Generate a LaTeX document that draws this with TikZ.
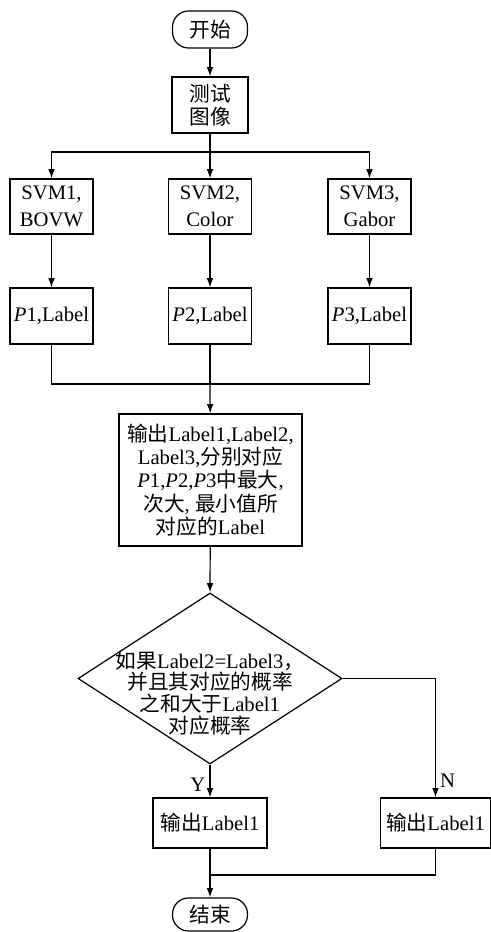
\documentclass[tikz,border=0pt]{standalone}
\usepackage{fontspec}
\setmainfont{Liberation Serif}
\newfontfamily\cjk{Noto Sans CJK SC}
\newcommand\zh[1]{{\cjk #1}}
\usetikzlibrary{shapes.geometric,arrows.meta}
\begin{document}
\begin{tikzpicture}[x=0.75pt,y=-0.75pt,
  line width=0.9pt,
  every node/.style={font=\fontsize{15.5}{17.5}\selectfont},
  box/.style={draw,rectangle,inner sep=0pt,align=center},
  term/.style={draw,rectangle,rounded corners=12pt,inner sep=0pt,minimum width=56.25pt},
  arr/.style={-{Latex[length=7pt,width=5pt]}}
]
\useasboundingbox (0,0) rectangle (491,932);

\node[term,minimum height=27.75pt] (start) at (210,29.5) {\zh{开始}};
\node[box,minimum width=57pt,minimum height=42pt] (test) at (210,105) {\zh{测试}\\\zh{图像}};

\node[box,minimum width=62.25pt,minimum height=41.25pt,font=\fontsize{15.5}{20}\selectfont] (svm1) at (51.5,206.5) {SVM1,\\BOVW};
\node[box,minimum width=62.25pt,minimum height=41.25pt,font=\fontsize{15.5}{20}\selectfont] (svm2) at (210,206.5) {SVM2,\\Color};
\node[box,minimum width=62.25pt,minimum height=41.25pt,font=\fontsize{15.5}{20}\selectfont] (svm3) at (369.5,206.5) {SVM3,\\Gabor};

\node[box,minimum width=62.25pt,minimum height=42pt] (p1) at (51.5,316) {\textit{P}1,Label};
\node[box,minimum width=62.25pt,minimum height=42pt] (p2) at (210,316) {\textit{P}2,Label};
\node[box,minimum width=62.25pt,minimum height=42pt] (p3) at (369.5,316) {\textit{P}3,Label};

\node[box,minimum width=137.25pt,minimum height=99pt] (big) at (210.5,480)
  {\zh{输出}Label1,Label2,\\Label3,\zh{分别对应}\\\textit{P}1,\textit{P}2,\textit{P}3\zh{中最大},\\\zh{次大}, \zh{最小值所}\\\zh{对应的}Label};

\node[draw,diamond,inner sep=0pt,minimum width=198pt,minimum height=128.25pt] (dec) at (210,678.5) {};
\node[align=center,inner sep=0pt,font=\fontsize{15.5}{16.3}\selectfont] (dectext) at (210,693)
  {\zh{如果}Label2=Label3\zh{，}\\\zh{并且其对应的概率}\\\zh{之和大于}Label1\\\zh{对应概率}};

\node[box,minimum width=85.5pt,minimum height=37.5pt] (yout) at (210,823) {\zh{输出}Label1};
\node[box,minimum width=82.5pt,minimum height=37.5pt] (nout) at (435.5,823) {\zh{输出}Label1};

\node[term,minimum height=24.75pt] (end) at (210,914.5) {\zh{结束}};

\coordinate (split) at (210,152);
\coordinate (join) at (210,384);
\coordinate (join2) at (210,875);

\draw[arr] (start) -- (test);
\draw (test) -- (split);
\draw[arr] (split) -| (svm1);
\draw[arr] (split) -| (svm3);
\draw[arr] (split) -- (svm2);
\draw[arr] (svm1) -- (p1);
\draw[arr] (svm2) -- (p2);
\draw[arr] (svm3) -- (p3);
\draw (p1) |- (join);
\draw (p3) |- (join);
\draw (p2) -- (join);
\draw[arr] (join) -- (big);
\draw[arr] (big) -- (dec.north);
\draw[arr] (dec.south) -- node[left,pos=0.6,inner sep=3pt] (ylab) {Y} (yout);
\draw[arr] (dec.east) -| node[right,pos=0.93,inner sep=3pt] (nlab) {N} (nout);
\draw[arr] (yout) -- (end);
\draw (nout) |- (join2);
\end{tikzpicture}
\end{document}
